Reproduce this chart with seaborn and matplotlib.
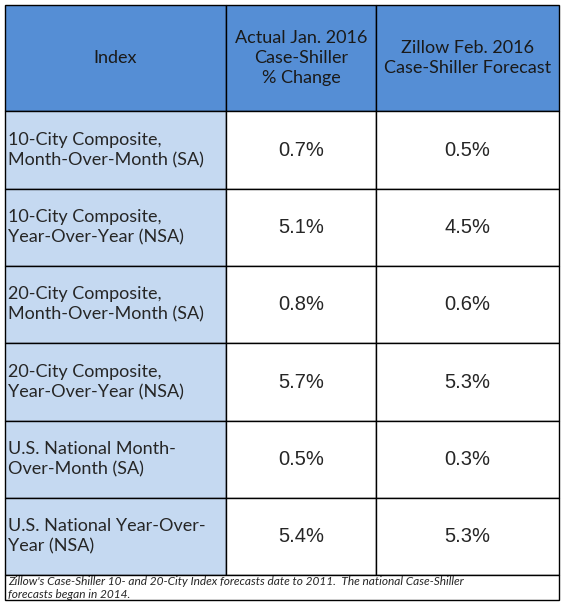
import matplotlib
matplotlib.use("Agg")
import matplotlib.pyplot as plt
import seaborn as sns
import numpy as np
from matplotlib.patches import Rectangle

sns.set_style("white")
plt.rcParams['font.family'] = ['Lato', 'DejaVu Sans']

headers = ["Index", "Actual Jan. 2016\nCase-Shiller\n% Change", "Zillow Feb. 2016\nCase-Shiller Forecast"]
row_labels = ["10-City Composite,\nMonth-Over-Month (SA)",
              "10-City Composite,\nYear-Over-Year (NSA)",
              "20-City Composite,\nMonth-Over-Month (SA)",
              "20-City Composite,\nYear-Over-Year (NSA)",
              "U.S. National Month-\nOver-Month (SA)",
              "U.S. National Year-Over-\nYear (NSA)"]
actual = ["0.7%", "5.1%", "0.8%", "5.7%", "0.5%", "5.4%"]
forecast = ["0.5%", "4.5%", "0.6%", "5.3%", "0.3%", "5.3%"]
footnote = ("Zillow's Case-Shiller 10- and 20-City Index forecasts date to 2011.  The national Case-Shiller\n"
            "forecasts began in 2014.")

W, H = 564, 605
fig = plt.figure(figsize=(W/100, H/100), dpi=100)
ax = fig.add_axes([0, 0, 1, 1])
ax.set_xlim(0, W); ax.set_ylim(H, 0); ax.axis("off")

col_x = [5, 226, 376, 559]
row_y = [5, 111, 189, 266, 343, 421, 498, 575]
blue = "#558ED5"; light = "#C5D9F1"

for r in range(7):
    for c in range(3):
        fc = blue if r == 0 else (light if c == 0 else "white")
        ax.add_patch(Rectangle((col_x[c], row_y[r]), col_x[c+1]-col_x[c], row_y[r+1]-row_y[r],
                               facecolor=fc, edgecolor="black", lw=1))
ax.add_patch(Rectangle((5, 575), 554, 25, facecolor="white", edgecolor="black", lw=1))

for c, h in enumerate(headers):
    ax.text((col_x[c]+col_x[c+1])/2, (row_y[0]+row_y[1])/2, h, ha="center", va="center",
            fontsize=13, color="#1a1a1a", linespacing=1.3)
for r in range(6):
    yc = (row_y[r+1]+row_y[r+2])/2
    ax.text(col_x[0]+3, yc, row_labels[r], ha="left", va="center", fontsize=13, linespacing=1.35)
    ax.text((col_x[1]+col_x[2])/2, yc, actual[r], ha="center", va="center", fontsize=14.5,
            family=["Liberation Sans"])
    ax.text((col_x[2]+col_x[3])/2, yc, forecast[r], ha="center", va="center", fontsize=14.5,
            family=["Liberation Sans"])
ax.text(8, 588, footnote, ha="left", va="center", fontsize=8.6, style="italic", linespacing=1.2)

fig.savefig("out.png", dpi=100)
